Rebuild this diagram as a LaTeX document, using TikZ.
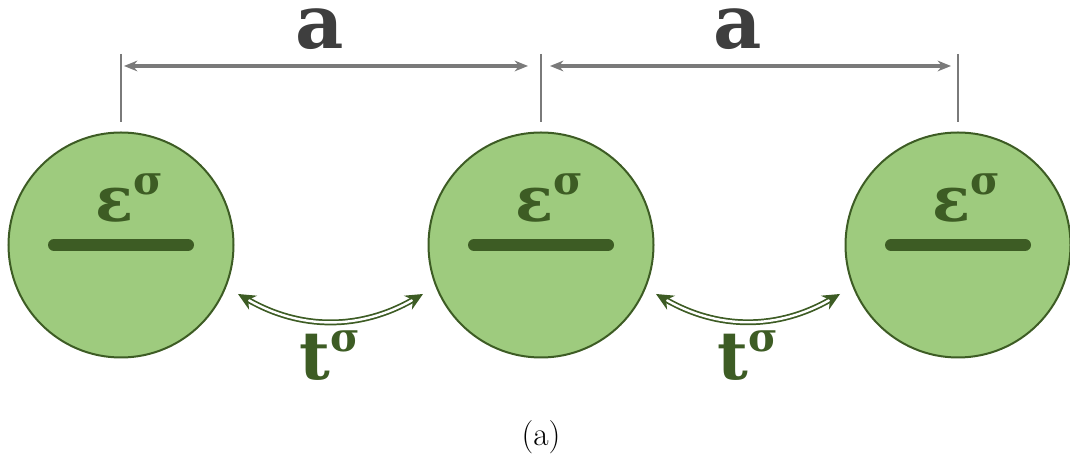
\documentclass[tikz,border=0pt]{standalone}
\usepackage{fontspec}
\usetikzlibrary{arrows.meta,calc}
\newfontfamily\djserif{DejaVu Serif}[BoldFont={DejaVu Serif Bold}]

\begin{document}
\begin{tikzpicture}[
    x=0.75pt, y=0.75pt,               % 1 drawing unit = 1 px of the reference
    font=\djserif\bfseries,
    site/.style={circle,draw=leafE,fill=leaf,line width=1.5pt,minimum size=168.75pt,inner sep=0pt},
    level/.style={line width=9pt,leafE,line cap=round},
    tick/.style={line width=1.1pt,rule},
    dim/.style={{Stealth[length=10pt,width=8pt]}-{Stealth[length=10pt,width=8pt]},line width=2.4pt,rule},
    hop/.style={{Stealth[length=13pt,width=12pt]}-{Stealth[length=13pt,width=12pt]},
                leafE,line width=1.3pt,double=white,double distance=1.8pt},
    onsite/.style={leafE,font=\djserif\bfseries\fontsize{47}{47}\selectfont},
    hoplab/.style={leafE,font=\djserif\bfseries\fontsize{50}{50}\selectfont},
    dimlab/.style={textG,anchor=base,inner sep=0pt,text height=0.55em,text depth=0pt,
                   font=\djserif\bfseries\fontsize{56}{56}\selectfont},
  ]
  \definecolor{leaf}{RGB}{158,203,126}
  \definecolor{leafE}{RGB}{61,92,36}
  \definecolor{rule}{RGB}{122,122,122}
  \definecolor{textG}{RGB}{62,62,62}
  \newcommand{\supsig}{\raisebox{0.42em}{\fontsize{30}{30}\selectfont σ}}

  \useasboundingbox (0,0) rectangle (1070,459);

  %% ---------------- sites ----------------
  \foreach \n/\x in {1/121,2/541,3/958}{
    \node[site] (site\n) at (\x,214) {};
    \draw[level] ($(site\n.center)+(-67,0)$) -- ($(site\n.center)+(67,0)$);
    \node[onsite] (eps\n) at ($(site\n.center)+(8,47)$) {ε\supsig};
    \coordinate (top\n) at (\x,405);
    \coordinate (bot\n) at (\x,337);
    \draw[tick] (top\n) -- (bot\n);
  }

  %% ---------------- lattice spacing ----------------
  \coordinate (d1) at (124,393); \coordinate (d2) at (528,393);
  \coordinate (d3) at (550,393); \coordinate (d4) at (951,393);
  \draw[dim] (d1) -- (d2);
  \draw[dim] (d3) -- (d4);
  \node[dimlab] (a1) at (320,410) {a};
  \node[dimlab] (a2) at (738,410) {a};

  %% ---------------- hopping ----------------
  \coordinate (h1) at (238,165); \coordinate (h2) at (423,165);
  \coordinate (h3) at (656,165); \coordinate (h4) at (840,165);
  \draw[hop] (h1) to[out=-30,in=-150] (h2);
  \draw[hop] (h3) to[out=-30,in=-150] (h4);
  \node[hoplab] (t1) at (330,103) {t\supsig};
  \node[hoplab] (t2) at (748,103) {t\supsig};

  \node[font=\rmfamily\fontsize{25}{25}\selectfont] (cap) at (541,22) {(a)};
\end{tikzpicture}
\end{document}
